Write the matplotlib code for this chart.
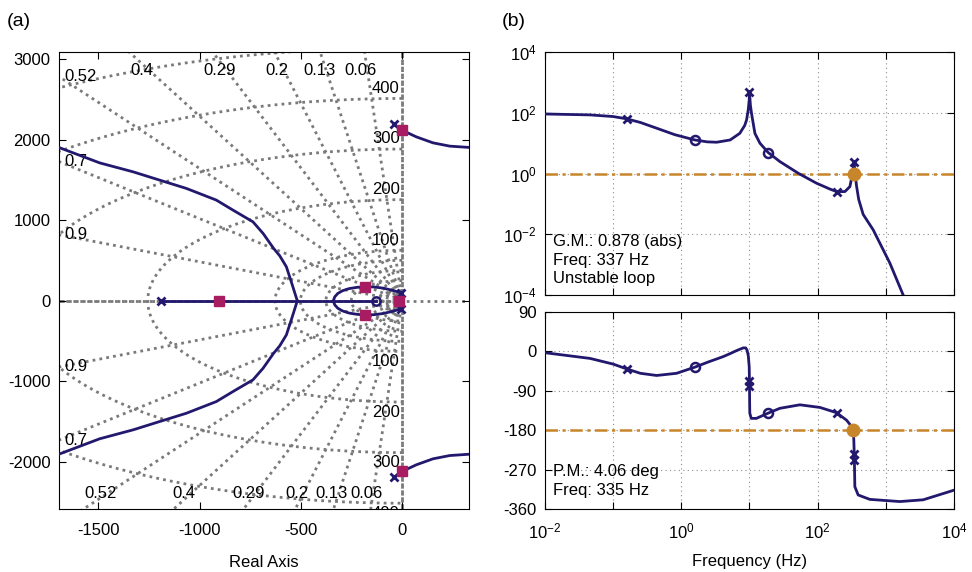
import numpy as np
import matplotlib
matplotlib.use('Agg')
import matplotlib.pyplot as plt

plt.rcParams['font.family'] = ['Liberation Sans', 'DejaVu Sans']
plt.rcParams['mathtext.fontset'] = 'custom'
plt.rcParams['mathtext.rm'] = 'Liberation Sans'
plt.rcParams['axes.unicode_minus'] = False
plt.rcParams['font.size'] = 12

navy = '#22196e'
magenta = '#a81d62'
orange = '#c8862b'
grey = '0.48'

# ---------------- (a) root locus ----------------
zeta_vals = [0.06, 0.13, 0.2, 0.29, 0.4, 0.52, 0.7, 0.9]
wn_hz = [5, 10, 15, 20, 40, 60, 80, 100, 200, 300, 400, 500]
wn_labels = [100, 200, 300, 400]

# real-axis segment of the locus
real_seg_x = [-1190, -127]
# branch leaving the real axis at the breakaway point (upper half, mirrored below)
far_x = [-518, -545, -572, -605, -635, -687, -737, -836, -918, -1066, -1198, -1329, -1494, -1695]
far_y = [0, 215, 423, 560, 651, 837, 981, 1127, 1251, 1396, 1499, 1602, 1713, 1904]
# loop around the low-frequency poles (upper half)
loop_x = [-340, -333, -318, -295, -262, -222, -182, -140, -95, -55, -22, -4]
loop_y = [0, 50, 92, 125, 152, 168, 175, 172, 158, 135, 112, 100]
# high-frequency branch crossing into the right half plane (upper half)
hf_x = [-40, -20, -1, 70, 152, 235, 330]
hf_y = [2190, 2155, 2119, 2036, 1962, 1921, 1905]

pole_x = [-1190, -4, -4, -40, -40]
pole_y = [0, 100, -100, 2190, -2190]
zero_x = [-127]
zero_y = [0]
cl_x = [-905, -182, -182, -17, -1, -1]
cl_y = [0, 172, -172, 0, 2119, -2119]

xlim_a = (-1695, 330)
ylim_a = (-2585, 3090)

# ---------------- (b) bode ----------------
f_mag = [0.01, 0.0457, 0.1, 0.158, 0.25, 0.434, 0.8, 1.58, 2.4, 3.3, 5.2, 7.2, 8.5, 9.06,
         9.6, 9.9, 10.0, 10.3, 10.7, 12, 14.2, 18.8, 27.9, 51.9, 96, 150, 189, 251, 297,
         325, 343, 350, 360, 371, 400, 465, 652, 1146, 1796, 2000]
mag = [91, 85, 75, 63, 48, 31, 19, 12.7, 11, 10.7, 12.7, 21, 38, 58,
       130, 263, 494, 180, 96, 21, 10, 4.9, 2.47, 1.02, 0.48, 0.31, 0.254, 0.254, 0.37,
       1.02, 2.47, 1.3, 0.75, 0.4, 0.14, 0.045, 0.014, 0.00112, 0.0001, 0.00006]

f_ph = [0.01, 0.0457, 0.1, 0.158, 0.25, 0.434, 0.853, 1.58, 2.5, 4.1, 5.2, 6.5, 8.1, 8.8,
        9.2, 9.6, 9.9, 10.0, 10.05, 10.1, 10.6, 12.6, 18.8, 27.9, 54.8, 108, 189, 265,
        331, 339, 345, 351, 393, 582, 1603, 3524, 10000]
phase = [-3, -16, -29, -40, -50, -55, -50, -36, -24, -12, -5, 2, 8, 8,
         3, -10, -35, -73, -120, -141, -153, -153, -141, -130, -122, -128, -140, -157,
         -176, -202, -240, -309, -328, -338, -343, -339, -317]

mag_px_f = [0.158, 10, 189, 343]
mag_px_v = [63, 494, 0.254, 2.47]
mag_po_f = [1.58, 18.8]
mag_po_v = [12.7, 4.9]
ph_px_f = [0.158, 10, 10, 189, 343, 343]
ph_px_v = [-40, -67, -79, -140, -234, -247]
ph_po_f = [1.58, 18.8]
ph_po_v = [-36, -141]

gm_freq, gm_text = 337, 'G.M.: 0.878 (abs)\nFreq: 337 Hz\nUnstable loop'
pm_freq, pm_text = 335, 'P.M.: 4.06 deg\nFreq: 335 Hz'

fig = plt.figure(figsize=(9.72, 5.72), dpi=100)
ax = fig.add_axes([59 / 972, 63 / 572, 410 / 972, 457 / 572])

dots = (0, (1, 1.5))
grid_kw = dict(color=grey, lw=2.0, ls=dots, zorder=1)
R = 6000
for z in zeta_vals:
    s = np.sqrt(1 - z ** 2)
    ax.plot([0, -R * z], [0, R * s], **grid_kw)
    ax.plot([0, -R * z], [0, -R * s], **grid_kw)
t = np.linspace(np.pi / 2, 3 * np.pi / 2, 500)
for f in wn_hz:
    w = 2 * np.pi * f
    ax.plot(w * np.cos(t), w * np.sin(t), **grid_kw)
ax.plot([xlim_a[0], xlim_a[1]], [0, 0], **grid_kw)
ax.plot([xlim_a[0], 0], [0, 0], color=grey, lw=2.0, ls=(1.6, (1, 1.5)), zorder=1)
ax.plot([0, 0], [ylim_a[0], ylim_a[1]], **grid_kw)
ax.plot([0, 0], [ylim_a[0], ylim_a[1]], color=grey, lw=2.0, ls=(1.6, (1, 1.5)), zorder=1)

# damping labels
top_y = ylim_a[1] - 0.04 * (ylim_a[1] - ylim_a[0])
bot_y = ylim_a[0] + 0.035 * (ylim_a[1] - ylim_a[0])
for z in zeta_vals:
    slope = np.sqrt(1 - z ** 2) / z
    for yy in (top_y, bot_y):
        xx = -abs(yy) / slope
        if xx > xlim_a[0] + 150:
            ax.text(xx - 35, yy, f'{z:g}', ha='center', va='center', zorder=2)
        else:
            ax.text(xlim_a[0] + 25, np.sign(yy) * slope * (-xlim_a[0]), f'{z:g}',
                    ha='left', va='center', zorder=2)
for f in wn_labels:
    w = 2 * np.pi * f
    for sg in (1, -1):
        ax.text(-12, sg * (w + 125), str(f), ha='right', va='center', clip_on=True, zorder=2)

lc = dict(color=navy, lw=2.0, zorder=3)
ax.plot(real_seg_x, [0, 0], **lc)
for xs, ys in ((far_x, far_y), (loop_x, loop_y), (hf_x, hf_y)):
    ax.plot(xs, ys, **lc)
    ax.plot(xs, -np.array(ys), **lc)
ax.plot(pole_x, pole_y, 'x', color=navy, ms=5.5, mew=2, zorder=4)
ax.plot(zero_x, zero_y, 'o', color=navy, mfc='none', ms=6, mew=1.8, zorder=4)
ax.plot(cl_x, cl_y, 's', color=magenta, ms=7, zorder=5)

ax.set_xlim(*xlim_a)
ax.set_ylim(*ylim_a)
ax.set_xticks([-1500, -1000, -500, 0])
ax.set_yticks([-2000, -1000, 0, 1000, 2000, 3000])
ax.tick_params(direction='in', top=True, right=True, length=5, labelsize=12)
ax.tick_params(axis='x', pad=10)
ax.tick_params(axis='y', pad=6)
ax.set_xlabel('Real Axis', fontsize=12, labelpad=12)

# ---------------- bode axes ----------------
axm = fig.add_axes([545 / 972, 277 / 572, 409 / 972, 243 / 572])
axp = fig.add_axes([545 / 972, 63 / 572, 409 / 972, 197 / 572])

gk = dict(color='0.55', lw=0.8, ls=(0, (1, 3)))
for a in (axm, axp):
    a.set_xscale('log')
    a.set_xlim(1e-2, 1e4)
    a.set_xticks([1e-2, 1e-1, 1e0, 1e1, 1e2, 1e3, 1e4])
    a.minorticks_off()
    a.grid(True, **gk)
    a.set_axisbelow(True)
    a.tick_params(direction='in', top=True, right=True, length=5, labelsize=12)
    a.tick_params(axis='x', pad=9)
    a.tick_params(axis='y', pad=6)

axm.set_yscale('log')
axm.set_ylim(1e-4, 1e4)
axm.set_yticks([1e-4, 1e-2, 1e0, 1e2, 1e4])
axm.minorticks_off()
axm.set_xticklabels([])
axm.axhline(1, color=orange, lw=1.8, ls=(0, (5, 1.8, 1.3, 1.8)), zorder=2)
axm.plot(f_mag, mag, color=navy, lw=2.0, zorder=3)
axm.plot(mag_px_f, mag_px_v, 'x', color=navy, ms=5.5, mew=2, zorder=4)
axm.plot(mag_po_f, mag_po_v, 'o', color=navy, mfc='none', ms=6.5, mew=1.8, zorder=4)
axm.plot([gm_freq], [1], 'o', color=orange, ms=9, zorder=5)
axm.text(0.02, 0.035, gm_text, transform=axm.transAxes, ha='left', va='bottom',
         fontsize=12, linespacing=1.33)

axp.set_ylim(-360, 90)
axp.set_yticks([-360, -270, -180, -90, 0, 90])
axp.set_xticklabels(['$\\mathdefault{10^{-2}}$', '', '$\\mathdefault{10^{0}}$', '',
                     '$\\mathdefault{10^{2}}$', '', '$\\mathdefault{10^{4}}$'])
axp.axhline(-180, color=orange, lw=1.8, ls=(0, (5, 1.8, 1.3, 1.8)), zorder=2)
axp.plot(f_ph, phase, color=navy, lw=2.0, zorder=3)
axp.plot(ph_px_f, ph_px_v, 'x', color=navy, ms=5.5, mew=2, zorder=4)
axp.plot(ph_po_f, ph_po_v, 'o', color=navy, mfc='none', ms=6.5, mew=1.8, zorder=4)
axp.plot([pm_freq], [-180], 'o', color=orange, ms=9, zorder=5)
axp.text(0.02, 0.055, pm_text, transform=axp.transAxes, ha='left', va='bottom',
         fontsize=12, linespacing=1.33)
axp.set_xlabel('Frequency (Hz)', fontsize=12, labelpad=9)

fig.text(7 / 972, 1 - 21 / 572, '(a)', fontsize=14, va='center')
fig.text(502 / 972, 1 - 21 / 572, '(b)', fontsize=14, va='center')

fig.savefig('out.png', dpi=100)
